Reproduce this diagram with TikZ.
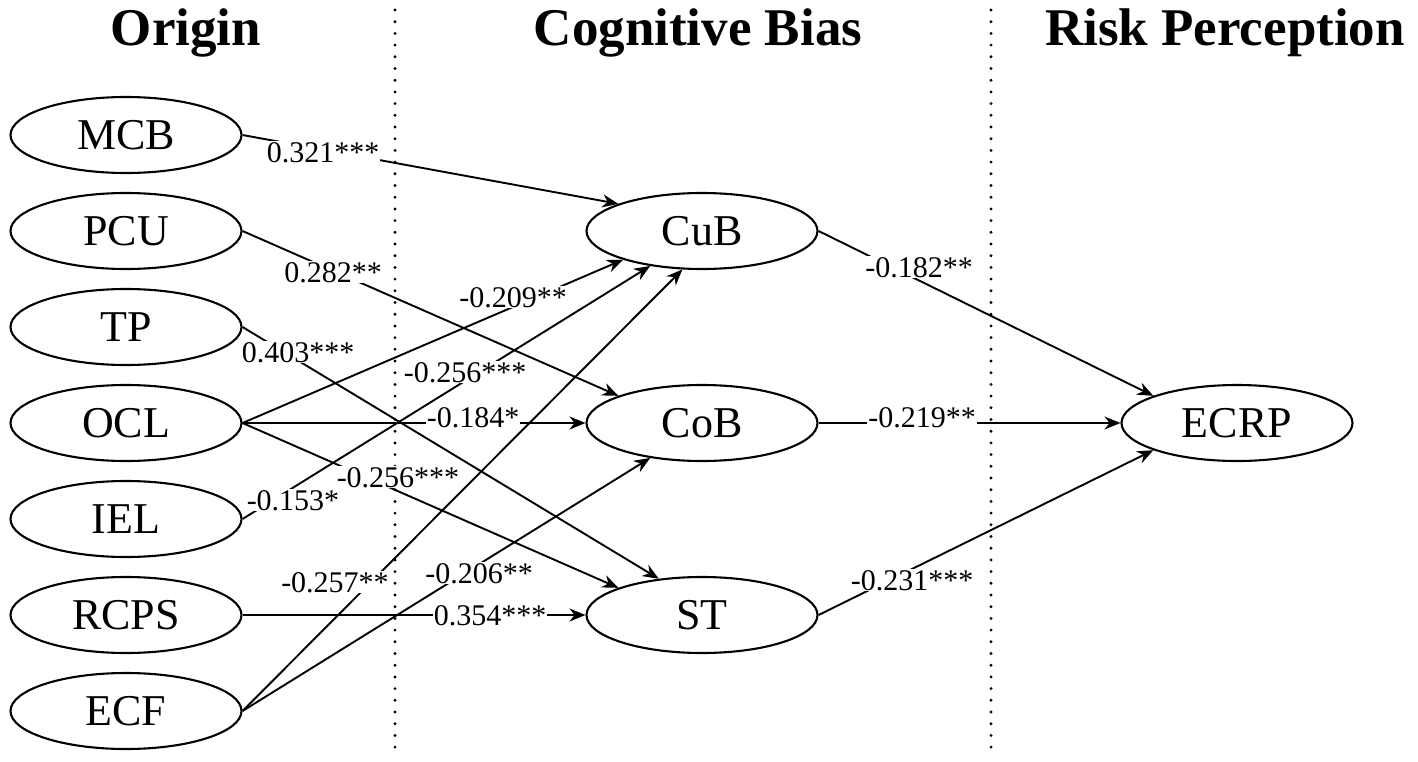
\documentclass[tikz,border=0pt]{standalone}
\usepackage{fontspec}
\setmainfont{Liberation Serif}
\usetikzlibrary{arrows.meta,shapes.geometric}
\tikzset{
  var/.style={ellipse, draw, line width=2.1pt, minimum width=231pt, minimum height=76pt, inner sep=0pt,
    font=\fontsize{44}{48}\selectfont},
  edge/.style={line width=1.9pt, -{Stealth[length=16pt,width=13pt]}},
  coef/.style={fill=white, inner sep=1pt, anchor=base, font=\fontsize{30}{34}\selectfont},
  title/.style={anchor=base, font=\fontsize{53}{58}\selectfont\bfseries},
  divider/.style={line width=3.2pt, dash pattern=on 0pt off 11.7pt, line cap=round}
}
\begin{document}
\begin{tikzpicture}[x=1pt,y=-1pt]
\useasboundingbox (0,0) rectangle (1418,761);
% titles
\node[title] (t1) at (186,45) {Origin};
\node[title] (t2) at (698,45) {Cognitive Bias};
\node[title] (t3) at (1225,45) {Risk Perception};
% dividers
\coordinate (d1a) at (395,10); \coordinate (d1b) at (395,750);
\coordinate (d2a) at (991,10); \coordinate (d2b) at (991,750);
\draw[divider] (d1a) -- (d1b);
\draw[divider] (d2a) -- (d2b);
% origin nodes
\node[var] (MCB) at (126,135) {MCB};
\node[var] (PCU) at (126,231) {PCU};
\node[var] (TP) at (126,327) {TP};
\node[var] (OCL) at (126,423) {OCL};
\node[var] (IEL) at (126,519) {IEL};
\node[var] (RCPS) at (126,615) {RCPS};
\node[var] (ECF) at (126,711) {ECF};
% cognitive bias nodes
\node[var] (CuB) at (702,231) {CuB};
\node[var] (CoB) at (702,423) {CoB};
\node[var] (ST) at (702,615) {ST};
% risk perception
\node[var] (ECRP) at (1237,423) {ECRP};
% edges
\draw[edge] (MCB.east) -- (CuB.162);
\draw[edge] (PCU.east) -- (CoB.162);
\draw[edge] (TP.east) -- (ST.140);
\draw[edge] (OCL.east) -- (CuB.200);
\draw[edge] (OCL.east) -- (CoB.west);
\draw[edge] (OCL.east) -- (ST.162);
\draw[edge] (IEL.east) -- (CuB.214);
\draw[edge] (RCPS.east) -- (ST.west);
\draw[edge] (ECF.east) -- (CuB.243);
\draw[edge] (ECF.east) -- (CoB.214);
\draw[edge] (CuB.east) -- (ECRP.162);
\draw[edge] (CoB.east) -- (ECRP.west);
\draw[edge] (ST.east) -- (ECRP.198);
% coefficients
\node[coef] (c1) at (323,162) {0.321***};
\node[coef] (c2) at (333,282) {0.282**};
\node[coef] (c3) at (298,362) {0.403***};
\node[coef] (c4) at (513,307) {-0.209**};
\node[coef] (c5) at (465,382) {-0.256***};
\node[coef] (c6) at (473,427) {-0.184*};
\node[coef] (c7) at (398,487) {-0.256***};
\node[coef] (c8) at (293,510) {-0.153*};
\node[coef] (c9) at (335,592) {-0.257**};
\node[coef] (c10) at (479,583) {-0.206**};
\node[coef] (c11) at (490,625) {0.354***};
\node[coef] (c12) at (919,277) {-0.182**};
\node[coef] (c13) at (922,427) {-0.219**};
\node[coef] (c14) at (912,590) {-0.231***};
\end{tikzpicture}
\end{document}
